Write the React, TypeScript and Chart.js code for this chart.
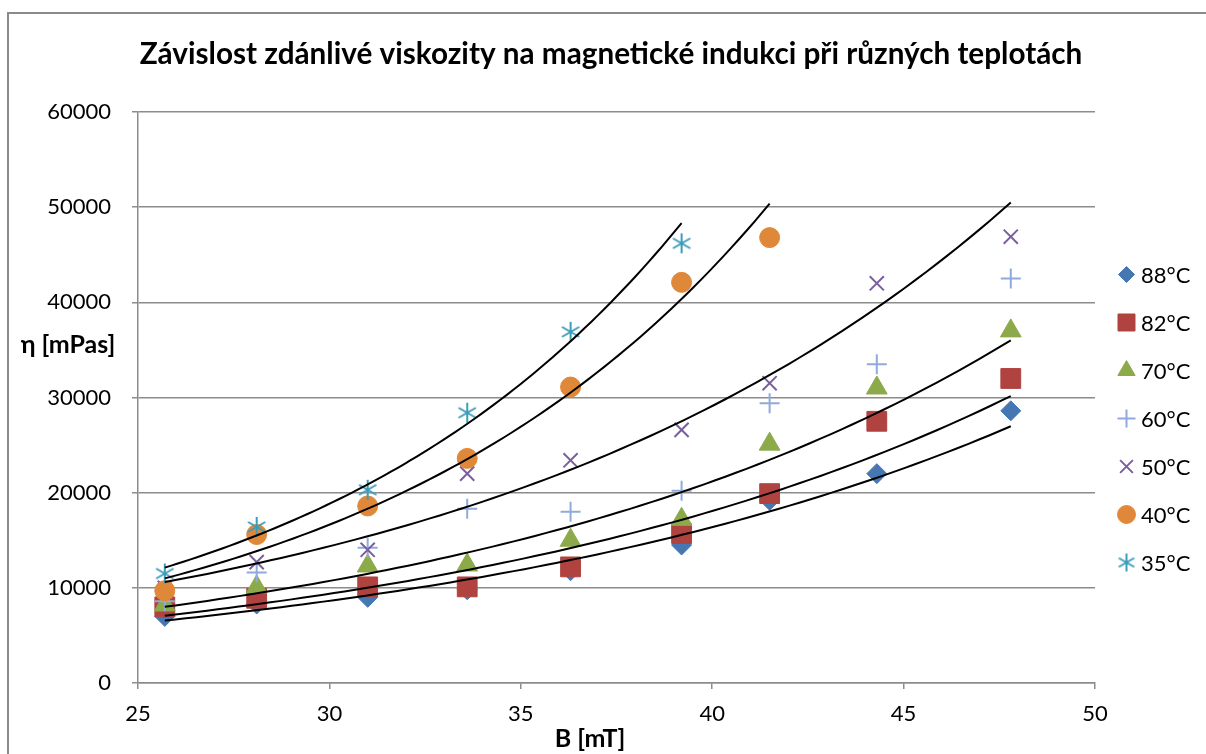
import React, { useEffect, useRef } from 'react';
import { Chart, registerables } from 'chart.js';
import { drawPoint } from 'chart.js/helpers';

Chart.register(...registerables);

// ---------- texts ----------
const TITLE = 'Závislost zdánlivé viskozity na magnetické indukci při různých teplotách';
const X_TITLE = 'B [mT]';
const Y_TITLE = 'η [mPas]';

// ---------- axes ----------
const X_MIN = 25;
const X_MAX = 50;
const X_STEP = 5;
const Y_MIN = 0;
const Y_MAX = 60000;
const Y_STEP = 10000;

// ---------- data ----------
const B_VALUES = [25.7, 28.1, 31.0, 33.6, 36.3, 39.2, 41.5, 44.3, 47.8];

const SERIES_LABELS = ['88°C', '82°C', '70°C', '60°C', '50°C', '40°C', '35°C'];

const ETA_88 = [7000, 8300, 9000, 9800, 11800, 14500, 19200, 22000, 28600];
const ETA_82 = [8000, 8900, 10100, 10100, 12200, 15700, 19900, 27500, 32000];
const ETA_70 = [8200, 10100, 12300, 12400, 15000, 17200, 25100, 31000, 37000];
const ETA_60 = [8600, 11600, 14200, 18300, 18000, 20200, 29400, 33500, 42500];
const ETA_50 = [10000, 12700, 14000, 22000, 23400, 26600, 31500, 42000, 46900];
const ETA_40 = [9700, 15600, 18600, 23600, 31100, 42100, 46800];
const ETA_35 = [11500, 16400, 20300, 28400, 36900, 46200];

const SERIES_VALUES = [ETA_88, ETA_82, ETA_70, ETA_60, ETA_50, ETA_40, ETA_35];
// which series carry an exponential trendline
const HAS_TREND = [true, true, true, false, true, true, true];

// ---------- styles ----------
const COLORS = ['#4677B2', '#B0433F', '#8DAA4B', '#8FAADC', '#7B5E9E', '#E0883A', '#3D9DB8'];
const POINT_STYLES = ['rectRot', 'rect', 'triangle', 'cross', 'crossRot', 'circle', 'asterisk'];
const POINT_RADII = [10, 14, 12, 10, 10, 10, 10];
const LEGEND_RADII = [8, 12, 10, 9, 9, 9, 9];
const FONT = 'Lato, "Open Sans", sans-serif';

function makeAsterisk(color: string, r: number): HTMLCanvasElement {
  const c = document.createElement('canvas');
  const s = Math.ceil(r * 2 + 4);
  c.width = s;
  c.height = s;
  const ctx = c.getContext('2d')!;
  ctx.strokeStyle = color;
  ctx.lineWidth = 2;
  const cx = s / 2;
  const cy = s / 2;
  for (let k = 0; k < 3; k++) {
    const a = Math.PI / 2 + (k * Math.PI) / 3;
    ctx.beginPath();
    ctx.moveTo(cx + Math.cos(a) * r, cy - Math.sin(a) * r);
    ctx.lineTo(cx - Math.cos(a) * r, cy + Math.sin(a) * r);
    ctx.stroke();
  }
  return c;
}

function expFit(xs: number[], ys: number[]) {
  const n = xs.length;
  const ly = ys.map((v) => Math.log(v));
  const mx = xs.reduce((a, b) => a + b, 0) / n;
  const my = ly.reduce((a, b) => a + b, 0) / n;
  let sxy = 0;
  let sxx = 0;
  for (let i = 0; i < n; i++) {
    sxy += (xs[i] - mx) * (ly[i] - my);
    sxx += (xs[i] - mx) * (xs[i] - mx);
  }
  const b = sxy / sxx;
  const a = Math.exp(my - b * mx);
  return (x: number) => a * Math.exp(b * x);
}

export default function App() {
  const canvasRef = useRef<HTMLCanvasElement | null>(null);

  useEffect(() => {
    const canvas = canvasRef.current;
    if (!canvas) return;

    const styleFor = (i: number, legend: boolean): any =>
      POINT_STYLES[i] === 'asterisk'
        ? makeAsterisk(COLORS[i], legend ? LEGEND_RADII[i] : POINT_RADII[i])
        : POINT_STYLES[i];

    const scatterSets = SERIES_VALUES.map((vals, i) => ({
      type: 'scatter' as const,
      label: SERIES_LABELS[i],
      data: vals.map((v, j) => ({ x: B_VALUES[j], y: v })),
      pointStyle: styleFor(i, false),
      pointRadius: POINT_RADII[i],
      backgroundColor: COLORS[i],
      borderColor: COLORS[i],
      pointBorderWidth: POINT_STYLES[i] === 'cross' || POINT_STYLES[i] === 'crossRot' ? 2 : 1,
      order: 10 - i,
    }));

    const trendSets: any[] = [];
    SERIES_VALUES.forEach((vals, i) => {
      if (!HAS_TREND[i]) return;
      const xs = B_VALUES.slice(0, vals.length);
      const f = expFit(xs, vals);
      const x0 = xs[0];
      const x1 = xs[xs.length - 1];
      const pts = [];
      const N = 80;
      for (let k = 0; k <= N; k++) {
        const x = x0 + ((x1 - x0) * k) / N;
        pts.push({ x, y: f(x) });
      }
      trendSets.push({
        type: 'line' as const,
        label: 'trend ' + SERIES_LABELS[i],
        data: pts,
        borderColor: '#000000',
        borderWidth: 2,
        pointRadius: 0,
        fill: false,
        tension: 0,
        order: 0,
      });
    });

    const legendStyles = SERIES_VALUES.map((_, i) => styleFor(i, true));

    const overlay = {
      id: 'overlay',
      afterDraw(chart: any) {
        const ctx = chart.ctx as CanvasRenderingContext2D;
        ctx.save();
        // title
        ctx.fillStyle = '#000';
        ctx.textAlign = 'center';
        ctx.textBaseline = 'alphabetic';
        let size = 26;
        ctx.font = `bold ${size}px ${FONT}`;
        const w = ctx.measureText(TITLE).width;
        size = (size * 943) / w;
        ctx.font = `bold ${size}px ${FONT}`;
        ctx.fillText(TITLE, 611, 64);

        // y title (horizontal)
        ctx.font = `bold 25px ${FONT}`;
        ctx.textBaseline = 'middle';
        ctx.fillText(Y_TITLE, 68, 345);

        // x title
        ctx.fillText(X_TITLE, 590, 739);

        // legend
        ctx.textAlign = 'left';
        ctx.font = `22px ${FONT}`;
        SERIES_LABELS.forEach((lab, i) => {
          const y = 274.5 + i * 48;
          ctx.fillStyle = COLORS[i];
          ctx.strokeStyle = COLORS[i];
          const cross = POINT_STYLES[i] === 'cross' || POINT_STYLES[i] === 'crossRot';
          ctx.lineWidth = cross ? 2 : 1;
          drawPoint(ctx, { pointStyle: legendStyles[i], radius: LEGEND_RADII[i], borderWidth: ctx.lineWidth, rotation: 0 } as any, 1126.5, y);
          ctx.fillStyle = '#000';
          ctx.fillText(lab, 1141, y + 1);
        });
        ctx.restore();
      },
    };

    const chart = new Chart(canvas, {
      type: 'scatter',
      data: { datasets: [...scatterSets, ...trendSets] as any },
      options: {
        responsive: false,
        animation: false,
        devicePixelRatio: 1,
        events: [],
        layout: { padding: { left: 0, right: 1206 - 1095, top: 112, bottom: 0 } },
        plugins: {
          legend: { display: false },
          title: { display: false },
          tooltip: { enabled: false },
        },
        scales: {
          x: {
            type: 'linear',
            min: X_MIN,
            max: X_MAX,
            afterFit: (s: any) => {
              s.height = 754 - 683;
            },
            ticks: {
              stepSize: X_STEP,
              padding: 12,
              color: '#000',
              font: { family: FONT, size: 22 },
              callback: (v: any) => String(v),
            },
            grid: {
              display: true,
              drawOnChartArea: false,
              drawTicks: true,
              tickLength: 6,
              color: '#8c8c8c',
              lineWidth: 1.5,
            },
            border: { display: true, color: '#8c8c8c', width: 1.5 },
          },
          y: {
            type: 'linear',
            min: Y_MIN,
            max: Y_MAX,
            afterFit: (s: any) => {
              s.width = 138;
            },
            ticks: {
              stepSize: Y_STEP,
              padding: 21,
              color: '#000',
              font: { family: FONT, size: 22 },
              callback: (v: any) => String(v),
            },
            grid: {
              display: true,
              drawTicks: true,
              tickLength: 6,
              color: '#8c8c8c',
              lineWidth: 1.5,
            },
            border: { display: true, color: '#8c8c8c', width: 1.5 },
          },
        },
      },
      plugins: [overlay],
    });

    return () => chart.destroy();
  }, []);

  return (
    <div
      style={{
        position: 'fixed',
        left: 0,
        top: 0,
        width: 1206,
        height: 754,
        overflow: 'hidden',
        background: '#fff',
      }}
    >
      <div
        style={{
          position: 'absolute',
          left: 7,
          top: 12,
          width: 1400,
          height: 900,
          border: '2px solid #8a8a8a',
        }}
      />
      <canvas
        ref={canvasRef}
        width={1206}
        height={754}
        style={{ position: 'absolute', left: 0, top: 0, width: 1206, height: 754 }}
      />
    </div>
  );
}
